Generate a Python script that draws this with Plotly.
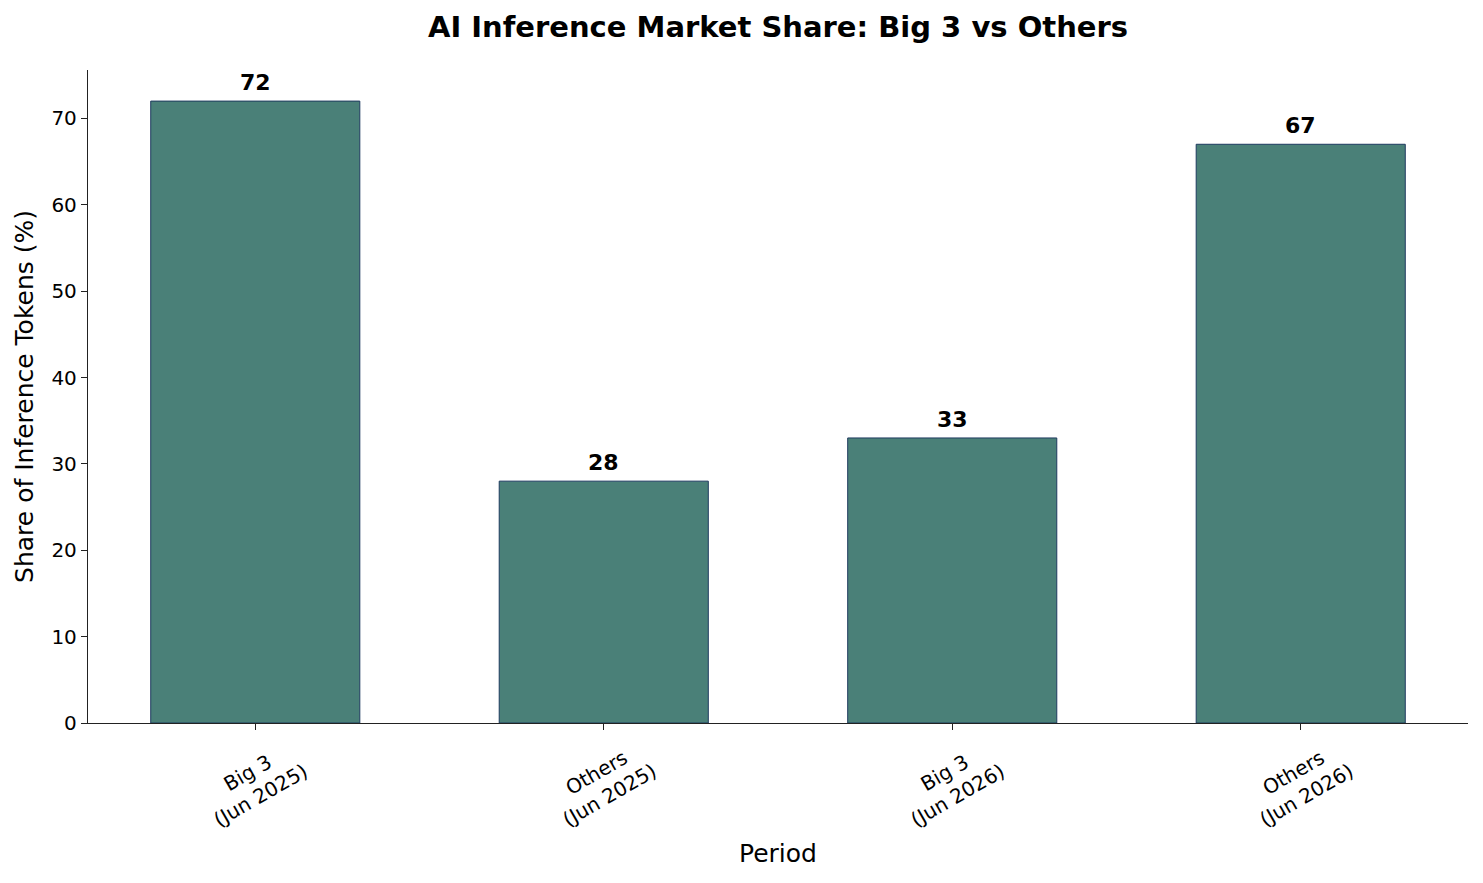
import plotly.graph_objects as go

categories = ["Big 3<br>(Jun 2025)", "Others<br>(Jun 2025)", "Big 3<br>(Jun 2026)", "Others<br>(Jun 2026)"]
values = [72, 28, 33, 67]
y_ticks = [0, 10, 20, 30, 40, 50, 60, 70]

FONT = "DejaVu Sans"
x_idx = list(range(len(categories)))

fig = go.Figure()
fig.add_trace(go.Bar(
    x=x_idx, y=values, width=0.6,
    marker=dict(color="#4a8078", line=dict(color="#1f3a5f", width=1)),
    hoverinfo="skip",
))

for i, v in enumerate(values):
    fig.add_annotation(x=i, y=v, text=f"<b>{v}</b>", showarrow=False,
                       yanchor="bottom", yshift=4,
                       font=dict(family=FONT, size=22, color="black"))

# rotated category labels, centred under each tick
for i, c in enumerate(categories):
    fig.add_annotation(x=i, xref="x", y=0, yref="paper", text=c, showarrow=False,
                       textangle=-30, xanchor="center", yanchor="middle", align="center",
                       xshift=-1, yshift=-61,
                       font=dict(family=FONT, size=20, color="black"))

fig.add_annotation(x=0.5, xref="paper", y=0, yref="paper", text="Period", showarrow=False,
                   xanchor="center", yanchor="middle", yshift=-130,
                   font=dict(family=FONT, size=25, color="black"))

fig.update_layout(
    width=1483, height=883,
    margin=dict(l=88, r=15, t=70, b=160),
    paper_bgcolor="white", plot_bgcolor="white",
    showlegend=False,
    title=dict(text="<b>AI Inference Market Share: Big 3 vs Others</b>",
               x=0.5, xanchor="center", xref="paper", y=1 - 27 / 883, yanchor="middle",
               font=dict(family=FONT, size=29, color="black")),
    font=dict(family=FONT, color="black"),
)
fig.update_xaxes(
    range=[-0.48, 3.48], tickmode="array", tickvals=x_idx, showticklabels=False,
    ticks="outside", ticklen=6, tickwidth=1.3, tickcolor="#222",
    showline=True, linecolor="#222", linewidth=1.3, showgrid=False, zeroline=False,
)
fig.update_yaxes(
    range=[0, 75.6], tickmode="array", tickvals=y_ticks,
    ticks="outside", ticklen=6, tickwidth=1.3, tickcolor="#222",
    showline=True, linecolor="#222", linewidth=1.3, showgrid=False, zeroline=False,
    tickfont=dict(family=FONT, size=20, color="black"),
    title=dict(text="Share of Inference Tokens (%)", font=dict(family=FONT, size=25, color="black"), standoff=10),
)

fig.write_html("out.html")
